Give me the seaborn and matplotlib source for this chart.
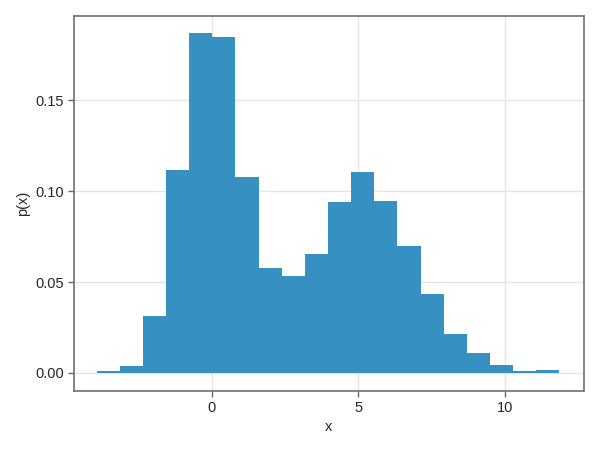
import numpy as np
import seaborn as sns
import matplotlib
matplotlib.use("Agg")
import matplotlib.pyplot as plt

# bin edges and density values
bin_edges = [-3.94, -3.15, -2.36, -1.57, -0.78, 0.01, 0.80, 1.59, 2.38, 3.17,
             3.96, 4.75, 5.54, 6.33, 7.12, 7.91, 8.70, 9.49, 10.28, 11.07, 11.86]
density = [0.001, 0.004, 0.0315, 0.1115, 0.1866, 0.1848, 0.1077, 0.0577, 0.0535, 0.0654,
           0.0941, 0.1103, 0.0945, 0.0698, 0.0434, 0.0213, 0.0112, 0.0044, 0.0013, 0.0018]

centers = [(a + b) / 2 for a, b in zip(bin_edges[:-1], bin_edges[1:])]

sns.set_theme(style="whitegrid")
plt.rcParams['font.family'] = ['Liberation Sans', 'DejaVu Sans']

fig = plt.figure(figsize=(6, 4.5), dpi=100)
ax = fig.add_axes([74 / 600, 1 - 391 / 450, (584 - 74) / 600, (391 - 16) / 450])

sns.histplot(x=centers, weights=density, bins=bin_edges, stat="count",
             element="step", color="#3690c2", alpha=1, linewidth=0, ax=ax)

ax.set_xlim(-4.71, 12.70)
ax.set_ylim(-0.0099, 0.1962)
ax.set_xticks([0, 5, 10])
ax.set_yticks([0.0, 0.05, 0.10, 0.15])
ax.set_yticklabels(["0.00", "0.05", "0.10", "0.15"])
ax.set_xlabel("x", fontsize=10.5)
ax.set_ylabel("p(x)", fontsize=10.5)
ax.tick_params(labelsize=10.5, length=4, width=1, color="#666666", bottom=True, left=True, pad=3)
ax.grid(True, color="#e5e5e5", linewidth=1)
ax.set_axisbelow(True)
for sp in ax.spines.values():
    sp.set_color("#707070")
    sp.set_linewidth(1.2)

fig.savefig("out.png", dpi=100)
